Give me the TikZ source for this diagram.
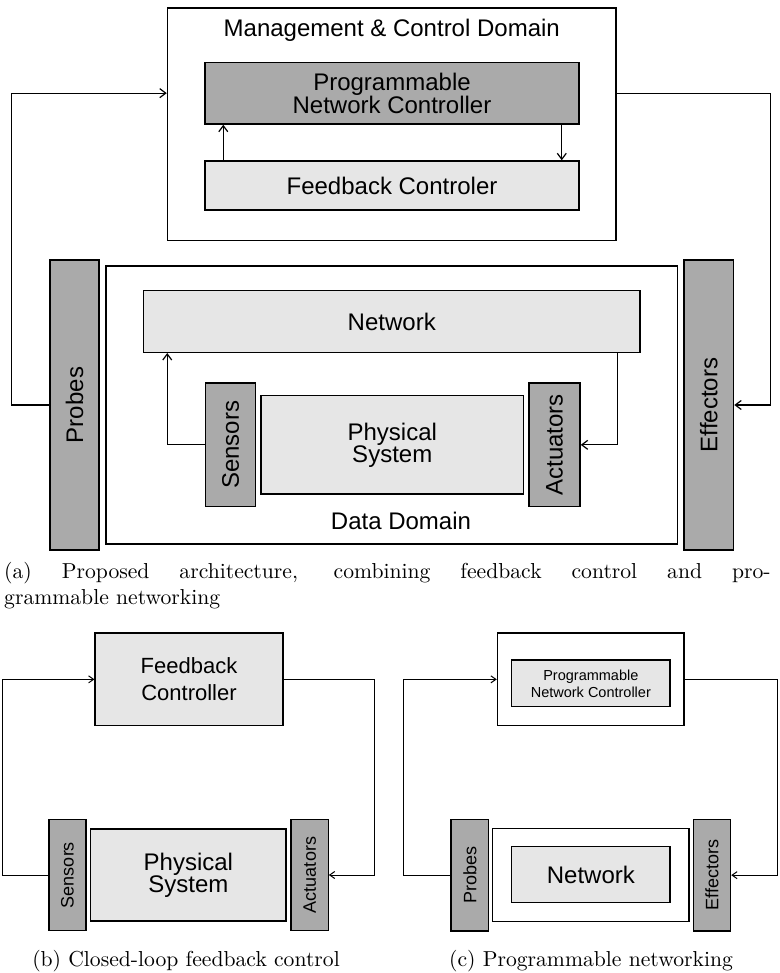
\documentclass[tikz,border=0pt]{standalone}
\usepackage{fontspec}
\usepackage{graphicx}
\usetikzlibrary{arrows.meta,positioning}
\newfontfamily\arialfont{Liberation Sans}
\definecolor{boxdark}{RGB}{170,170,170}
\definecolor{boxlight}{RGB}{230,230,230}

\begin{document}
\begin{tikzpicture}[x=1pt,y=-1pt,
    block/.style={draw,line width=1.5pt,inner sep=0pt,align=center,font=\arialfont\fontsize{24}{22}\selectfont},
    darkblock/.style={block,fill=boxdark},
    lightblock/.style={block,fill=boxlight},
    domainbox/.style={block,fill=white},
    smallblock/.style={line width=1.1pt},
    sidefont/.style={font=\arialfont\fontsize{18}{20}\selectfont},
    sz/.style 2 args={minimum width=#1pt,minimum height=#2pt},
    arrow/.style={-{Straight Barb[length=6pt,width=9pt]},line width=1.2pt},
    thinarrow/.style={-{Straight Barb[length=5pt,width=7pt]},line width=1pt},
    captext/.style={inner sep=0pt},
    label/.style={inner sep=0pt,font=\arialfont\fontsize{24}{22}\selectfont}
]
    \useasboundingbox (0,0) rectangle (779,973);

    % (a) Management & Control Domain
    \node[domainbox,sz={448.5}{232.7}] (mcd) at (391.75,124.35) {};
    \node[label,anchor=base] (mcdtitle) at (391.75,36.5) {Management \& Control Domain};
    \node[darkblock,sz={374}{61.7}] (pnc) at (392,93.15) {Programmable\\Network Controller};
    \node[lightblock,sz={374}{49}] (fc) at (392,185.5) {Feedback Controler};

    % (a) Data Domain with probes and effectors
    \node[darkblock,sz={49}{290}] (probesA) at (74.5,405) {\rotatebox{90}{Probes}};
    \node[domainbox,sz={571.5}{278}] (dd) at (391.75,405) {};
    \node[darkblock,sz={49.5}{290}] (effA) at (708.75,405) {\rotatebox{90}{Effectors}};
    \node[lightblock,sz={496.5}{61.6}] (net) at (391.75,321.5) {Network};
    \node[darkblock,sz={50}{123.7}] (sensA) at (230.5,444.85) {\rotatebox{90}{Sensors}};
    \node[lightblock,sz={262.5}{98.3}] (phyA) at (392.25,444.85) {Physical\\System};
    \node[darkblock,sz={51}{123.7}] (actA) at (554.5,444.85) {\rotatebox{90}{Actuators}};
    \node[label,anchor=base] (ddtitle) at (401,529) {Data Domain};

    % (a) connectors
    \draw[arrow] (probesA.west) -- ++(-37.5,0) |- (mcd.west |- pnc.center);
    \draw[arrow] (mcd.east |- pnc.center) -- ++(154,0) |- (effA.east);
    \draw[arrow] ([xshift=19pt]fc.north west) -- ([xshift=19pt]pnc.south west);
    \draw[arrow] ([xshift=-18pt]pnc.south east) -- ([xshift=-18pt]fc.north east);
    \draw[arrow] (sensA.west) -| ([xshift=24.5pt]net.south west);
    \draw[arrow] ([xshift=-23.5pt]net.south east) |- (actA.east);

    \node[captext,anchor=north west] (capA) at (4,562) {\scalebox{2.165}{\parbox{354pt}{(a) Proposed architecture, combining feedback control and pro-\linebreak grammable networking}}};

    % (b) closed-loop feedback control
    \node[lightblock,smallblock,sz={188}{92.7},font=\arialfont\fontsize{22}{27}\selectfont] (fcB) at (189,679.35) {Feedback\\Controller};
    \node[darkblock,smallblock,sidefont,sz={37}{111.4}] (sensB) at (67.5,875) {\rotatebox{90}{Sensors}};
    \node[lightblock,smallblock,sz={195.3}{92}] (phyB) at (188.35,875) {Physical\\System};
    \node[darkblock,smallblock,sidefont,sz={37.3}{111.4}] (actB) at (309.65,875) {\rotatebox{90}{Actuators}};
    \draw[thinarrow] (sensB.west) -- ++(-46,0) |- (fcB.west);
    \draw[thinarrow] (fcB.east) -- ++(91,0) |- (actB.east);
    \node[captext,anchor=base] (capB) at (186,966) {\scalebox{2.165}{(b) Closed-loop feedback control}};

    % (c) programmable networking
    \node[domainbox,smallblock,sz={186.7}{92.7}] (ctlC) at (590.65,679.35) {};
    \node[lightblock,smallblock,sz={158.3}{46.7},font=\arialfont\fontsize{14.5}{17}\selectfont] (pncC) at (590.85,683.35) {Programmable\\Network Controller};
    \node[darkblock,smallblock,sidefont,sz={37.7}{111.7}] (probC) at (469.85,875.15) {\rotatebox{90}{Probes}};
    \node[domainbox,smallblock,sz={196.3}{93}] (netOut) at (590.85,874.8) {};
    \node[lightblock,smallblock,sz={158.3}{56}] (netIn) at (590.85,874.7) {Network};
    \node[darkblock,smallblock,sidefont,sz={37.4}{111.7}] (effC) at (712,875.15) {\rotatebox{90}{Effectors}};
    \draw[thinarrow] (probC.west) -- ++(-47,0) |- (ctlC.west);
    \draw[thinarrow] (ctlC.east) -- ++(93,0) |- (effC.east);
    \node[captext,anchor=base] (capC) at (591,966) {\scalebox{2.165}{(c) Programmable networking}};
\end{tikzpicture}
\end{document}
